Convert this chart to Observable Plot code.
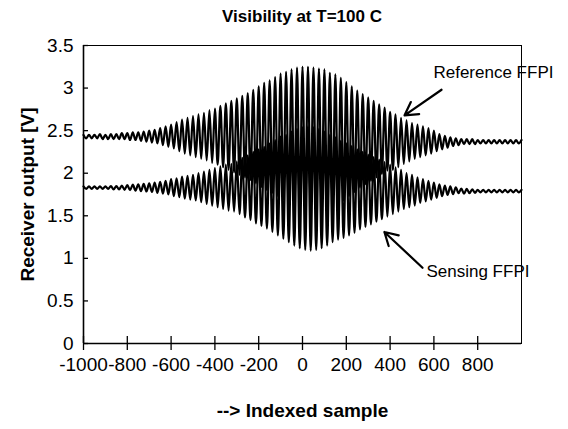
<!DOCTYPE html>
<html><head><meta charset="utf-8">
<script src="https://cdn.jsdelivr.net/npm/d3@7"></script>
<script src="https://cdn.jsdelivr.net/npm/@observablehq/plot@0.6"></script>
<style>
html,body{margin:0;padding:0;background:#fff;}
body{font-family:"Liberation Sans",Arial,sans-serif;width:568px;height:429px;overflow:hidden;}
#title{height:30px;width:568px;box-sizing:border-box;padding-left:36px;padding-top:8px;text-align:center;font-weight:bold;font-size:17px;line-height:17px;color:#000;}
</style></head><body>
<div id="title">Visibility at T=100 C</div>
<div id="chart"></div>
<script>
// Fringe peaks (top) and troughs (bottom), one per fringe.
const fringeSamples = d3.range(-1000, 1001, 25);      // peak sample index
const troughSamples = d3.range(-987.5, 1000, 25);     // trough sample index

const refTop = [2.45,2.45,2.45,2.46,2.45,2.46,2.46,2.47,2.47,2.48,
 2.48,2.49,2.50,2.51,2.53,2.55,2.57,2.60,2.63,2.65,
 2.67,2.69,2.71,2.74,2.76,2.79,2.82,2.85,2.88,2.91,
 2.94,2.98,3.02,3.06,3.09,3.13,3.17,3.19,3.22,3.24,
 3.25,3.25,3.24,3.23,3.22,3.18,3.16,3.12,3.07,3.02,
 2.97,2.93,2.89,2.85,2.81,2.77,2.72,2.69,2.65,2.62,
 2.59,2.57,2.55,2.53,2.50,2.46,2.44,2.42,2.41,2.40,
 2.40,2.40,2.39,2.39,2.39,2.39,2.39,2.39,2.39,2.39,
 2.39];
const refBottom = [2.41,2.41,2.41,2.40,2.40,2.40,2.40,2.40,2.39,2.39,
 2.38,2.37,2.36,2.35,2.33,2.31,2.29,2.26,2.23,2.21,
 2.19,2.17,2.15,2.12,2.10,2.07,2.04,2.01,1.98,1.95,
 1.92,1.88,1.84,1.80,1.77,1.73,1.69,1.65,1.62,1.60,
 1.59,1.59,1.60,1.61,1.62,1.62,1.64,1.68,1.73,1.78,
 1.83,1.87,1.91,1.95,1.99,2.03,2.04,2.07,2.11,2.14,
 2.17,2.19,2.21,2.23,2.26,2.28,2.30,2.32,2.33,2.34,
 2.34,2.34,2.35,2.35,2.35,2.35,2.35,2.35,2.35,2.35];
const senTop = [1.845,1.845,1.845,1.845,1.845,1.85,1.85,1.855,1.86,1.865,
 1.87,1.875,1.88,1.89,1.90,1.91,1.93,1.94,1.96,1.97,
 1.98,2.00,2.02,2.04,2.06,2.08,2.10,2.11,2.14,2.18,
 2.21,2.25,2.28,2.31,2.35,2.39,2.43,2.45,2.49,2.52,
 2.54,2.55,2.54,2.52,2.49,2.45,2.42,2.38,2.35,2.32,
 2.28,2.25,2.22,2.19,2.16,2.13,2.10,2.07,2.04,2.00,
 1.98,1.95,1.93,1.91,1.89,1.87,1.855,1.845,1.835,1.82,
 1.815,1.81,1.805,1.805,1.805,1.805,1.805,1.805,1.805,1.805,
 1.805];
const senBottom = [1.815,1.815,1.815,1.815,1.815,1.81,1.81,1.805,1.80,1.795,
 1.79,1.785,1.78,1.77,1.76,1.75,1.73,1.72,1.70,1.69,
 1.68,1.66,1.64,1.62,1.60,1.58,1.56,1.55,1.52,1.48,
 1.45,1.41,1.38,1.35,1.31,1.27,1.23,1.19,1.15,1.12,
 1.10,1.09,1.10,1.12,1.15,1.19,1.22,1.24,1.27,1.30,
 1.34,1.37,1.40,1.43,1.46,1.49,1.52,1.55,1.58,1.60,
 1.62,1.65,1.67,1.69,1.71,1.73,1.745,1.755,1.765,1.76,
 1.765,1.77,1.775,1.775,1.775,1.775,1.775,1.775,1.775,1.775];

const xTicks = [-1000,-800,-600,-400,-200,0,200,400,600,800];
const yTicks = [0,0.5,1,1.5,2,2.5,3,3.5];
const xDomain = [-1000, 1000];
const yDomain = [0, 3.5];

const notes = [
  {label: "Reference FFPI", x: 598, y: 3.18},
  {label: "Sensing FFPI", x: 566, y: 0.85}
];
const arrows = [
  {x1: 635, y1: 2.98, x2: 466, y2: 2.68},
  {x1: 548, y1: 0.89, x2: 374, y2: 1.31}
];

function zigzag(name, tops, bottoms) {
  const rows = [];
  fringeSamples.forEach((s, k) => {
    rows.push({series: name, x: s, y: tops[k]});
    if (k < troughSamples.length) rows.push({series: name, x: troughSamples[k], y: bottoms[k]});
  });
  return rows;
}
const rows = [...zigzag("Reference FFPI", refTop, refBottom), ...zigzag("Sensing FFPI", senTop, senBottom)];

const chart = Plot.plot({
  width: 568, height: 399,
  marginTop: 15, marginLeft: 83, marginRight: 47, marginBottom: 86,
  style: {fontFamily: '"Liberation Sans", Arial, sans-serif', fontSize: "19px", color: "#000", background: "#fff"},
  x: {domain: xDomain},
  y: {domain: yDomain},
  marks: [
    Plot.frame({stroke: "#000", strokeWidth: 1}),
    Plot.line(rows, {x: "x", y: "y", z: "series", stroke: "#000", strokeWidth: 2.2, curve: "monotone-x"}),
    Plot.ruleX([xDomain[0]], {stroke: "#000", strokeWidth: 1.6}),
    Plot.ruleY([yDomain[0]], {stroke: "#000", strokeWidth: 1.6}),
    Plot.axisY({ticks: yTicks, tickFormat: d => String(d), tickSize: -5, tickPadding: 15, label: null, fontSize: 19, strokeWidth: 1.3}),
    Plot.axisX({ticks: xTicks, tickFormat: d => String(d), tickSize: 7, tickPadding: 7, label: null, fontSize: 19, strokeWidth: 1.3}),
    Plot.axisX({ticks: xTicks, tickFormat: () => "", tickSize: -7, label: null, strokeWidth: 1.3}),
    Plot.arrow(arrows, {x1: "x1", y1: "y1", x2: "x2", y2: "y2", stroke: "#000", strokeWidth: 2.2, headLength: 10}),
    Plot.text(notes, {x: "x", y: "y", text: "label", textAnchor: "start", fontSize: 17, fill: "#000"}),
    Plot.text(["--> Indexed sample"], {frameAnchor: "bottom", dy: 73, fontSize: 19, fontWeight: "bold", fill: "#000"}),
    Plot.text(["Receiver output [V]"], {frameAnchor: "left", textAnchor: "middle", dx: -56, rotate: -90, fontSize: 19, fontWeight: "bold", fill: "#000"})
  ]
});
document.getElementById("chart").appendChild(chart);
</script>
</body></html>
